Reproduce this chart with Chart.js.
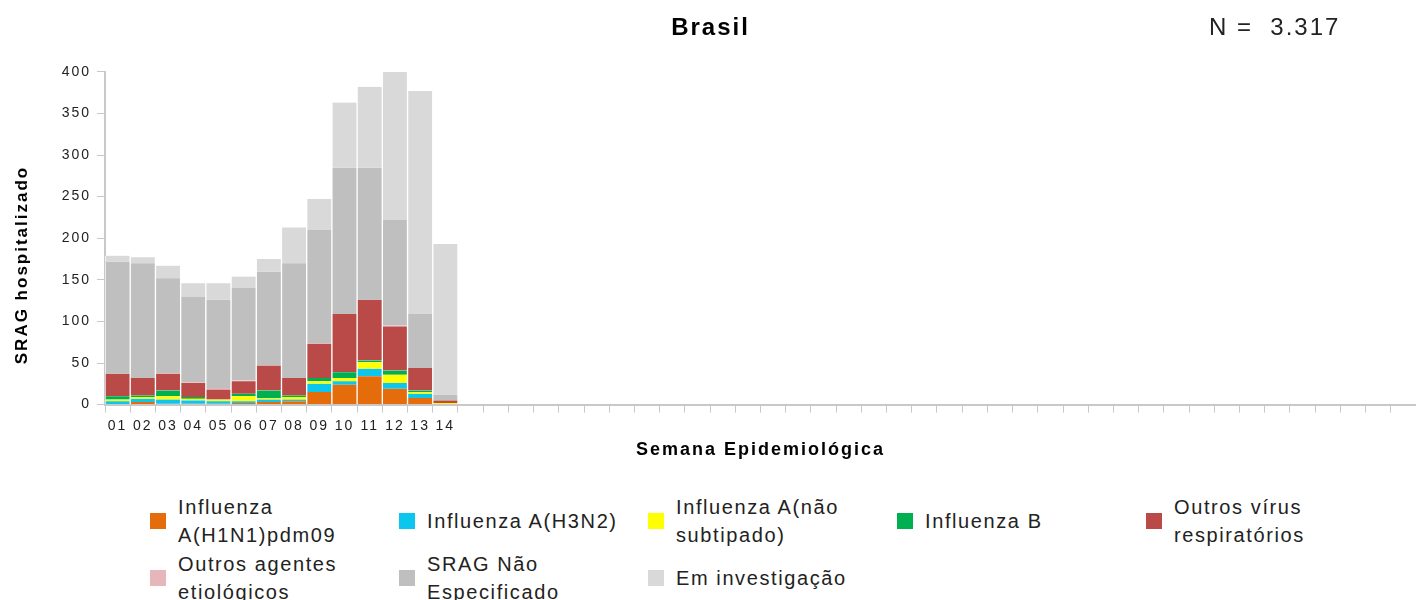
<!DOCTYPE html>
<html>
<head>
<meta charset="utf-8">
<script src="https://cdn.jsdelivr.net/npm/chart.js@4/dist/chart.umd.min.js"></script>
<style>
  body { margin: 0; background: #fff; font-family: "Liberation Sans", Arial, sans-serif; }
  #wrap { position: relative; width: 1416px; height: 600px; overflow: hidden; }
  #box { position: absolute; left: 0; top: 0; width: 1416px; height: 470px; }
  #total { position: absolute; left: 1209px; top: 13px; font-size: 24px; letter-spacing: 2px; color: #222; white-space: pre; }
  #legend { position: absolute; left: 150px; top: 492px; display: grid; grid-template-columns: repeat(5, 249px); grid-auto-rows: 57px; }
  .item { display: flex; align-items: center; }
  .item i { width: 16px; height: 16px; margin-right: 12px; flex: none; }
  .item span { max-width: 205px; font-size: 20px; line-height: 28px; letter-spacing: 1.6px; color: #222; }
</style>
</head>
<body>
<div id="wrap">
  <div id="box"><canvas id="chart"></canvas></div>
  <div id="total">N =  3.317</div>
  <div id="legend"></div>
</div>
<script>
const weeks = ["01", "02", "03", "04", "05", "06", "07", "08", "09", "10", "11", "12", "13", "14"];
const totalWeeks = 52;

const h1n1 = [0, 3, 1, 1, 1, 2, 3, 4, 15, 24, 34, 19, 8, 0];
const h3n2 = [4, 4, 5, 4, 3, 2, 3, 2, 10, 4, 9, 7, 5, 0];
const aNaoSubtipado = [2, 2, 4, 2, 2, 6, 2, 3, 3, 4, 8, 10, 2, 2];
const influenzaB = [4, 2, 7, 2, 0, 3, 9, 2, 4, 7, 2, 5, 2, 0];
const outrosVirus = [27, 21, 20, 17, 12, 15, 30, 21, 41, 70, 73, 53, 27, 3];
const outrosAgentes = [0, 0, 1, 1, 2, 1, 0, 0, 1, 0, 0, 1, 0, 0];
const sragNaoEspec = [135, 138, 114, 103, 106, 111, 113, 138, 136, 176, 159, 127, 65, 7];
const emInvestigacao = [7, 7, 15, 16, 20, 14, 15, 43, 37, 78, 97, 178, 268, 181];

const yTicks = [0, 50, 100, 150, 200, 250, 300, 350, 400];
const yTitle = "SRAG hospitalizado";

// weeks without data keep an empty slot on the axis
const labels = weeks.concat(new Array(totalWeeks - weeks.length).fill(""));

const series = [
  { label: "Influenza A(H1N1)pdm09", data: h1n1, color: "#e46c0a" },
  { label: "Influenza A(H3N2)", data: h3n2, color: "#0cc6ee" },
  { label: "Influenza A(não subtipado)", data: aNaoSubtipado, color: "#ffff00" },
  { label: "Influenza B", data: influenzaB, color: "#00b050" },
  { label: "Outros vírus respiratórios", data: outrosVirus, color: "#b94a48" },
  { label: "Outros agentes etiológicos", data: outrosAgentes, color: "#e6b6b8" },
  { label: "SRAG Não Especificado", data: sragNaoEspec, color: "#bfbfbf" },
  { label: "Em investigação", data: emInvestigacao, color: "#d9d9d9" },
];

const spacing = {
  id: "spacing",
  beforeLayout(c) { c.ctx.letterSpacing = "2px"; },
  beforeDraw(c) { c.ctx.letterSpacing = "2px"; },
};

// y title sits a bit below the middle of the axis in the original
const sideTitle = {
  id: "sideTitle",
  afterDraw(c) {
    const ctx = c.ctx;
    ctx.save();
    ctx.letterSpacing = "2px";
    ctx.font = "bold 17px 'Liberation Sans'";
    ctx.fillStyle = "#000";
    ctx.textAlign = "center";
    ctx.textBaseline = "middle";
    ctx.translate(22, 265);
    ctx.rotate(-Math.PI / 2);
    ctx.fillText(yTitle, 0, 0);
    ctx.restore();
  },
};

const axisGrey = "#c8c8c8";
const tickFont = { family: "Liberation Sans", size: 14 };

new Chart(document.getElementById("chart"), {
  type: "bar",
  data: {
    labels: labels,
    datasets: series.map((s) => ({
      label: s.label,
      data: s.data,
      backgroundColor: s.color,
      borderColor: "#ffffff",
      borderWidth: { left: 1, right: 1, top: 0, bottom: 0 },
      borderSkipped: false,
      categoryPercentage: 1,
      barPercentage: 1,
    })),
  },
  options: {
    responsive: true,
    maintainAspectRatio: false,
    animation: false,
    layout: { padding: { left: 5, right: 0, top: 0, bottom: 0 } },
    plugins: {
      legend: { display: false },
      tooltip: { enabled: false },
      title: {
        display: true,
        text: "Brasil",
        color: "#000",
        font: { family: "Liberation Sans", size: 24, weight: "bold" },
        padding: { top: 14, bottom: 29 },
      },
    },
    scales: {
      x: {
        stacked: true,
        grid: { drawOnChartArea: false, offset: true, tickLength: 8, color: axisGrey },
        border: { color: axisGrey, width: 2 },
        ticks: {
          autoSkip: false, maxRotation: 0, minRotation: 0, padding: 5,
          color: "#222", font: tickFont,
        },
        title: {
          display: true,
          text: "Semana Epidemiológica",
          color: "#000",
          font: { family: "Liberation Sans", size: 18, weight: "bold" },
          padding: { top: 0, bottom: 9 },
        },
      },
      y: {
        stacked: true,
        min: 0,
        max: 400,
        afterFit(s) { s.width = 100; },
        afterBuildTicks(s) { s.ticks = yTicks.map((v) => ({ value: v })); },
        grid: { drawOnChartArea: false, tickLength: 8, color: axisGrey },
        border: { color: axisGrey, width: 2 },
        ticks: { padding: 6, color: "#222", font: tickFont },
      },
    },
  },
  plugins: [spacing, sideTitle],
});

// legend in five columns, long names wrap like the original
const legend = document.getElementById("legend");
series.forEach((s) => {
  const item = document.createElement("div");
  item.className = "item";
  const box = document.createElement("i");
  box.style.background = s.color;
  const txt = document.createElement("span");
  txt.textContent = s.label;
  item.appendChild(box);
  item.appendChild(txt);
  legend.appendChild(item);
});
</script>
</body>
</html>
